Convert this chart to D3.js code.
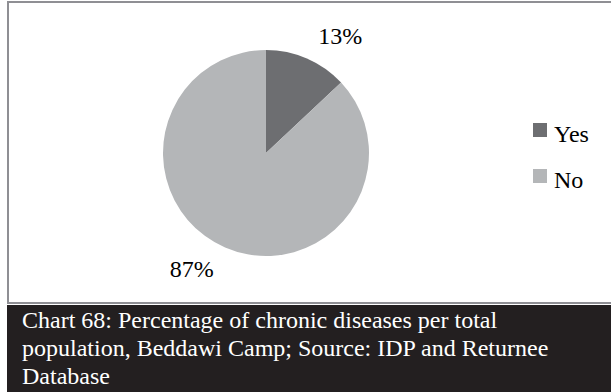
<!DOCTYPE html>
<html>
<head>
<meta charset="utf-8">
<script src="https://cdn.jsdelivr.net/npm/d3@7"></script>
<style>
  html, body { margin: 0; padding: 0; background: #ffffff; }
  svg { display: block; }
</style>
</head>
<body>
<svg id="chart" width="611" height="392"></svg>
<script>
const categories = ["Yes", "No"];
const values = [13, 87];
const labels = ["13%", "87%"];
const colors = ["#6d6e71", "#b4b6b8"];
const captionLines = [
  "Chart 68: Percentage of chronic diseases per total",
  "population, Beddawi Camp; Source: IDP and Returnee",
  "Database"
];
const FONT = "'Liberation Serif', 'Times New Roman', Tinos, 'Nimbus Roman', Times, serif";

const svg = d3.select("#chart");

svg.append("rect")
  .attr("x", 8).attr("y", 2)
  .attr("width", 606).attr("height", 301)
  .attr("fill", "#ffffff")
  .attr("stroke", "#8f8f94")
  .attr("stroke-width", 2);

svg.append("rect")
  .attr("x", 7).attr("y", 305)
  .attr("width", 604).attr("height", 87)
  .attr("fill", "#231f20");

svg.append("g").selectAll("text")
  .data(captionLines)
  .join("text")
  .attr("x", 22)
  .attr("y", (d, i) => 328 + i * 28)
  .attr("fill", "#ffffff")
  .style("font-family", FONT)
  .attr("font-size", 24)
  .text(d => d);

const cx = 266, cy = 153, r = 103;
const data = categories.map((c, i) => ({ cat: c, value: values[i], label: labels[i], color: colors[i] }));
const pie = d3.pie().sort(null).value(d => d.value);
const arcs = pie(data);
const arc = d3.arc().innerRadius(0).outerRadius(r);

const g = svg.append("g").attr("transform", `translate(${cx},${cy})`);
g.selectAll("path")
  .data(arcs)
  .join("path")
  .attr("d", arc)
  .attr("fill", d => d.data.color);

const labelR = 138;
const angleShift = 0.16;
g.selectAll("text.lbl")
  .data(arcs)
  .join("text")
  .attr("class", "lbl")
  .attr("x", d => labelR * Math.sin((d.startAngle + d.endAngle) / 2 + angleShift))
  .attr("y", d => -labelR * Math.cos((d.startAngle + d.endAngle) / 2 + angleShift))
  .attr("dy", "0.32em")
  .attr("text-anchor", "middle")
  .style("font-family", FONT)
  .attr("font-size", 24)
  .attr("fill", "#000000")
  .text(d => d.data.label);

const legend = svg.append("g").attr("transform", "translate(533,123)");
const li = legend.selectAll("g")
  .data(data)
  .join("g")
  .attr("transform", (d, i) => `translate(0,${i * 46})`);
li.append("rect")
  .attr("width", 14).attr("height", 14)
  .attr("fill", d => d.color);
li.append("text")
  .attr("x", 21).attr("y", 19)
  .style("font-family", FONT)
  .attr("font-size", 24)
  .attr("fill", "#000000")
  .text(d => d.cat);
</script>
</body>
</html>
